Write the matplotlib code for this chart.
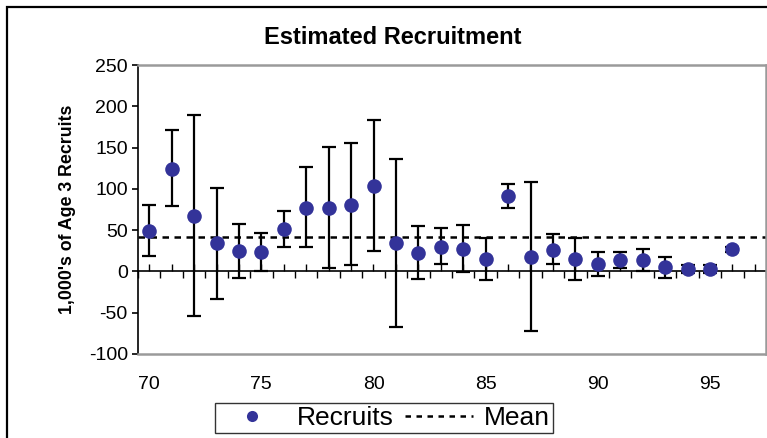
import numpy as np
import matplotlib.pyplot as plt
from matplotlib.patches import Rectangle
from matplotlib.lines import Line2D

plt.rcParams['font.family'] = ['Liberation Sans', 'DejaVu Sans']
plt.rcParams['axes.unicode_minus'] = False

years = list(range(70, 97))
recruits = [49, 124, 67, 34, 25, 23, 51, 77, 77, 81, 104, 34, 22, 29, 27, 15,
            91.5, 18, 26, 15, 8.5, 14, 14, 5, 3, 3, 27]
upper = [80, 171, 190, 101, 57, 47, 73, 126, 151, 156, 183, 136, 55, 52, 56, 41,
         106, 108, 45, 41, 23, 23, 27, 18, 8, 8, 30]
lower = [19, 79, -54, -33, -8, 0, 29, 29, 4, 8, 25, -67, -9, 9, -1, -10,
         77, -72, 9, -10, -6, 4, 0, -8, -2, -2, 24]
mean_recruits = 42

y_ticks = [-100, -50, 0, 50, 100, 150, 200, 250]
x_ticks = [70, 75, 80, 85, 90, 95]

W, H = 767, 438
fig = plt.figure(figsize=(W / 100, H / 100), dpi=100)

# outer chart frame (right/bottom edges run off the canvas)
fig.patches.append(Rectangle((7 / W, -0.05), 1.1, 1 - 7 / H + 0.05,
                             transform=fig.transFigure, fill=False,
                             edgecolor='black', linewidth=1.6))

ax = fig.add_axes([138 / W, 1 - 354 / H, (766 - 138) / W, (354 - 65) / H])
ax.set_xlim(69.5, 97.5)
ax.set_ylim(-100, 250)

rec = np.array(recruits)
yerr = [rec - np.array(lower), np.array(upper) - rec]
ax.errorbar(years, recruits, yerr=yerr, fmt='none', ecolor='black',
            elinewidth=1.6, capsize=5, capthick=1.6, zorder=3)
ax.plot(years, recruits, 'o', color='#333399', markersize=10.5,
        markeredgewidth=0, zorder=4, clip_on=False)
ax.axhline(mean_recruits, color='black', linestyle=(0, (2.6, 2.2)),
           linewidth=1.8, zorder=2)

# spines
for side in ('top', 'right', 'bottom'):
    ax.spines[side].set_color('#9a9a9a')
    ax.spines[side].set_linewidth(1.8)
ax.spines['left'].set_color('black')
ax.spines['left'].set_linewidth(1.2)

ax.set_yticks(y_ticks)
ax.tick_params(axis='y', direction='out', length=4.3, width=1.2,
               labelsize=14, pad=3)
ax.set_xticks(x_ticks)
ax.tick_params(axis='x', length=0, labelsize=14, pad=16)

# horizontal axis line through zero with year ticks
zero_axis = ax.secondary_xaxis(100 / 350)
zero_axis.spines['bottom'].set_linewidth(1.2)
zero_axis.spines['bottom'].set_color('black')
zero_axis.set_xticks(np.arange(70, 98))
zero_axis.set_xticks(np.arange(69.5, 98, 1), minor=True)
zero_axis.tick_params(axis='x', which='major', direction='in', length=5,
                      width=1.0, labelbottom=False)
zero_axis.tick_params(axis='x', which='minor', direction='out', length=5,
                      width=1.0, labelbottom=False)

ax.set_ylabel("1,000's of Age 3 Recruits", fontsize=12.8, fontweight='bold',
              labelpad=9)
fig.text(393 / W, 1 - 38 / H, 'Estimated Recruitment', ha='center',
         va='center', fontsize=17, fontweight='bold')

handles = [Line2D([], [], marker='o', linestyle='none', color='#333399',
                  markersize=8, markeredgewidth=0),
           Line2D([], [], color='black', linestyle=(0, (2.2, 2.2)),
                  linewidth=1.8)]
leg = fig.legend(handles, ['Recruits', 'Mean'], ncol=2,
                 loc='upper left', bbox_to_anchor=(215 / W, 1 - 403 / H),
                 fontsize=19, frameon=True, fancybox=False,
                 handlelength=2.6, handletextpad=0.4, columnspacing=0.4,
                 borderpad=0.12, borderaxespad=0)
leg.get_frame().set_edgecolor('black')
leg.get_frame().set_linewidth(1.0)

fig.savefig('out.png', dpi=100)
